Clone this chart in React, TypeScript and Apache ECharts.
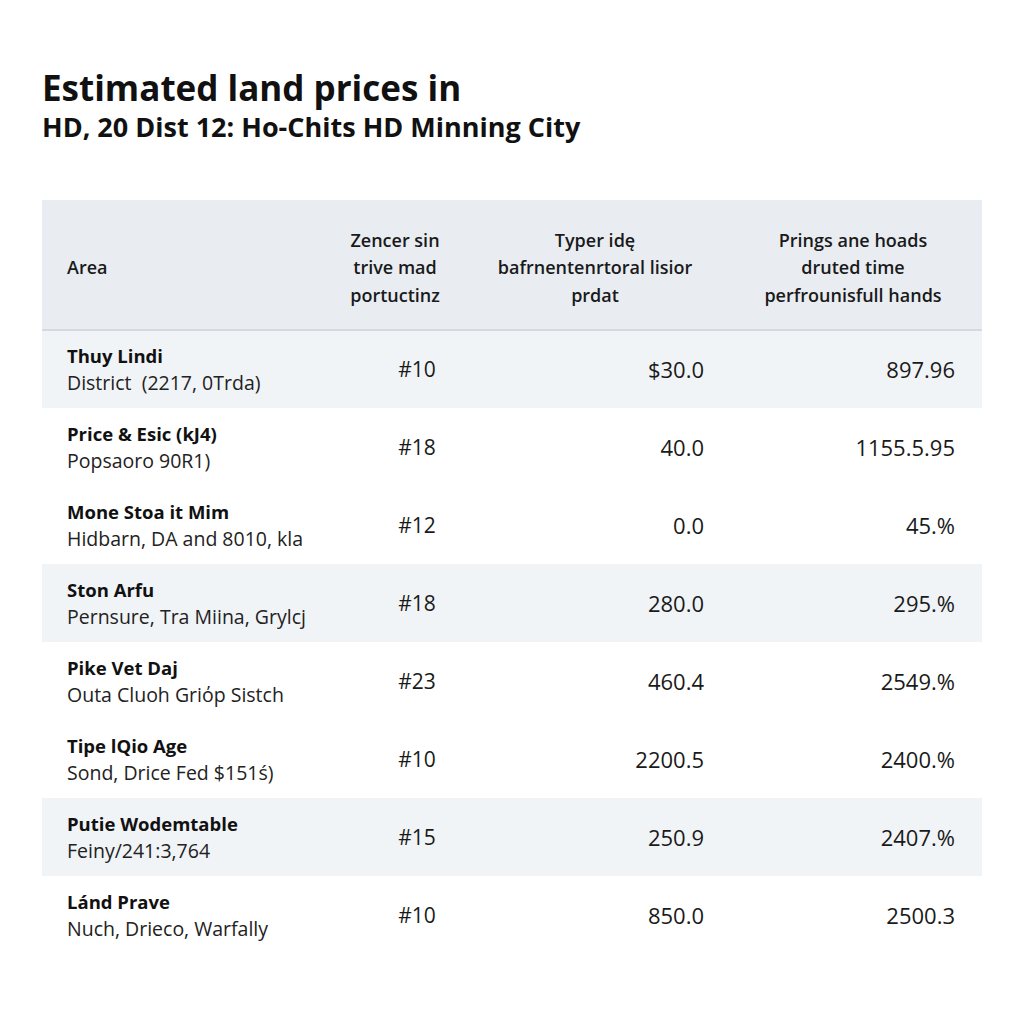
import React, { useEffect, useRef } from "react";
import * as echarts from "echarts";

const titleText = "Estimated land prices in";
const subtitleText = "HD, 20 Dist 12: Ho-Chits HD Minning City";

const headerArea = "Area";
const headerCol2 = ["Zencer sin", "trive mad", "portuctinz"];
const headerCol3 = ["Typer idę", "bafrnentenrtoral lisior", "prdat"];
const headerCol4 = ["Prings ane hoads", "druted time", "perfrounisfull hands"];

const areaNames = [
  "Thuy Lindi",
  "Price & Esic (kJ4)",
  "Mone Stoa it Mim",
  "Ston Arfu",
  "Pike Vet Daj",
  "Tipe lQio Age",
  "Putie Wodemtable",
  "Lánd Prave",
];
const areaDetails = [
  "District  (2217, 0Trda)",
  "Popsaoro 90R1)",
  "Hidbarn, DA and 8010, kla",
  "Pernsure, Tra Miina, Grylcj",
  "Outa Cluoh Griόp Sistch",
  "Sond, Drice Fed $151ś)",
  "Feiny/241:3,764",
  "Nuch, Drieco, Warfally",
];
const ranks = ["#10", "#18", "#12", "#18", "#23", "#10", "#15", "#10"];
const prices = ["$30.0", "40.0", "0.0", "280.0", "460.4", "2200.5", "250.9", "850.0"];
const changes = ["897.96", "1155.5.95", "45.%", "295.%", "2549.%", "2400.%", "2407.%", "2500.3"];
const shadedRows = [0, 3, 6];

const FONT = "'Open Sans', 'Noto Sans', sans-serif";

export default function App() {
  const ref = useRef<HTMLDivElement>(null);
  useEffect(() => {
    document.body.style.margin = "0";
    if (!ref.current) return;
    const chart = echarts.init(ref.current, null, { renderer: "svg" });

    const tableLeft = 42;
    const tableRight = 982;
    const tableTop = 200;
    const headerBottom = 330;
    const rowH = 78;

    const elements: any[] = [];
    elements.push({
      type: "rect",
      shape: { x: 0, y: 0, width: 1024, height: 1024 },
      style: { fill: "#ffffff" },
      silent: true,
    });
    elements.push({
      type: "text",
      x: 42,
      y: 87,
      style: {
        text: titleText,
        font: `bold 35px ${FONT}`,
        fill: "#111111",
        textVerticalAlign: "middle",
      },
    });
    elements.push({
      type: "text",
      x: 42,
      y: 126,
      style: {
        text: subtitleText,
        font: `bold 27px ${FONT}`,
        fill: "#111111",
        textVerticalAlign: "middle",
      },
    });
    elements.push({
      type: "rect",
      shape: { x: tableLeft, y: tableTop, width: tableRight - tableLeft, height: headerBottom - tableTop },
      style: { fill: "#e9edf2" },
    });
    areaNames.forEach((_, i) => {
      if (shadedRows.includes(i)) {
        elements.push({
          type: "rect",
          shape: { x: tableLeft, y: headerBottom + i * rowH, width: tableRight - tableLeft, height: rowH },
          style: { fill: "#f1f4f7" },
        });
      }
    });
    elements.push({
      type: "line",
      shape: { x1: tableLeft, y1: headerBottom, x2: tableRight, y2: headerBottom },
      style: { stroke: "#d5dae0", lineWidth: 2 },
    });

    const headerFont = `600 18px ${FONT}`;
    const headerYs = [240, 267, 295];
    elements.push({
      type: "text",
      x: 67,
      y: 267,
      style: { text: headerArea, font: headerFont, fill: "#1a1a1a", textVerticalAlign: "middle" },
    });
    const headerCols: [string[], number][] = [
      [headerCol2, 395],
      [headerCol3, 595],
      [headerCol4, 853],
    ];
    headerCols.forEach(([lines, cx]) => {
      lines.forEach((t, j) => {
        elements.push({
          type: "text",
          x: cx,
          y: headerYs[j],
          style: { text: t, font: headerFont, fill: "#1a1a1a", textAlign: "center", textVerticalAlign: "middle" },
        });
      });
    });

    areaNames.forEach((name, i) => {
      const cy = headerBottom + i * rowH + rowH / 2;
      elements.push({
        type: "text",
        x: 67,
        y: cy - 14,
        style: { text: name, font: `bold 18.5px ${FONT}`, fill: "#111111", textVerticalAlign: "middle" },
      });
      elements.push({
        type: "text",
        x: 67,
        y: cy + 13,
        style: { text: areaDetails[i], font: `19.5px ${FONT}`, fill: "#222222", textVerticalAlign: "middle" },
      });
      elements.push({
        type: "text",
        x: 417,
        y: cy,
        style: { text: ranks[i], font: `21px ${FONT}`, fill: "#1a1a1a", textAlign: "center", textVerticalAlign: "middle" },
      });
      elements.push({
        type: "text",
        x: 704,
        y: cy,
        style: { text: prices[i], font: `22px ${FONT}`, fill: "#1a1a1a", textAlign: "right", textVerticalAlign: "middle" },
      });
      elements.push({
        type: "text",
        x: 955,
        y: cy,
        style: { text: changes[i], font: `22px ${FONT}`, fill: "#1a1a1a", textAlign: "right", textVerticalAlign: "middle" },
      });
    });

    chart.setOption({
      animation: false,
      graphic: { elements },
    });
    return () => chart.dispose();
  }, []);
  return <div ref={ref} style={{ width: 1024, height: 1024 }} />;
}
